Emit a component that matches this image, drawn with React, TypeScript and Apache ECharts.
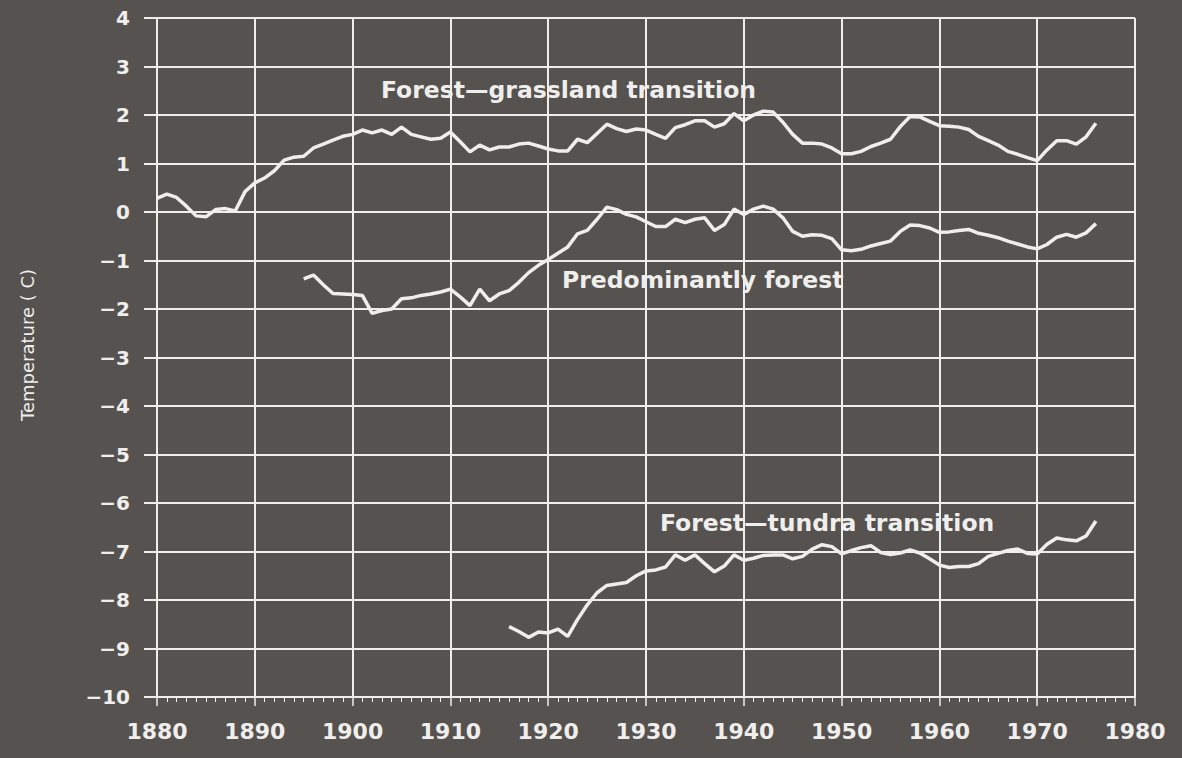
import React, { useEffect, useRef } from "react";
import * as echarts from "echarts";

const xTicks = [1880, 1890, 1900, 1910, 1920, 1930, 1940, 1950, 1960, 1970, 1980];
const yTicks = [-10, -9, -8, -7, -6, -5, -4, -3, -2, -1, 0, 1, 2, 3, 4];

const grasslandStart = 1880;
const grasslandValues = [
  0.28, 0.37, 0.3, 0.12, -0.08, -0.1, 0.05, 0.07, 0.02, 0.42,
  0.6, 0.7, 0.85, 1.07, 1.13, 1.15, 1.32, 1.4, 1.48, 1.56,
  1.6, 1.69, 1.63, 1.69, 1.6, 1.75, 1.6, 1.55, 1.5, 1.52,
  1.65, 1.45, 1.24, 1.38, 1.28, 1.34, 1.34, 1.4, 1.42, 1.36,
  1.3, 1.26, 1.26, 1.5, 1.43, 1.62, 1.81, 1.72, 1.66, 1.71,
  1.69, 1.6, 1.52, 1.74, 1.8, 1.88, 1.88, 1.75, 1.82, 2.03,
  1.88, 2.0, 2.08, 2.06, 1.85, 1.6, 1.42, 1.42, 1.4, 1.32,
  1.2, 1.2, 1.25, 1.35, 1.42, 1.5, 1.76, 1.97, 1.96, 1.87,
  1.78, 1.77, 1.75, 1.7, 1.56, 1.47, 1.38, 1.25, 1.19, 1.12,
  1.06, 1.28, 1.47, 1.47, 1.4, 1.55, 1.83,
];

const forestStart = 1895;
const forestValues = [
  -1.38, -1.3, -1.5, -1.68, -1.69,
  -1.7, -1.72, -2.09, -2.03, -2.0, -1.79, -1.77, -1.72, -1.69, -1.65,
  -1.59, -1.75, -1.93, -1.59, -1.83, -1.69, -1.62, -1.45, -1.25, -1.1,
  -0.98, -0.85, -0.72, -0.45, -0.38, -0.15, 0.1, 0.05, -0.05, -0.1,
  -0.2, -0.3, -0.3, -0.15, -0.22, -0.15, -0.12, -0.38, -0.26, 0.06,
  -0.05, 0.06, 0.12, 0.06, -0.12, -0.4, -0.5, -0.47, -0.48, -0.55,
  -0.78, -0.8, -0.77, -0.7, -0.65, -0.6, -0.4, -0.27, -0.28, -0.33,
  -0.42, -0.41, -0.38, -0.36, -0.44, -0.48, -0.53, -0.6, -0.66, -0.72,
  -0.76, -0.67, -0.52, -0.46, -0.52, -0.43, -0.24,
];

const tundraStart = 1916;
const tundraValues = [
  -8.55, -8.65, -8.77, -8.66,
  -8.68, -8.6, -8.75, -8.4, -8.1, -7.85, -7.7, -7.67, -7.64, -7.5,
  -7.4, -7.38, -7.32, -7.07, -7.18, -7.07, -7.25, -7.42, -7.3, -7.07,
  -7.18, -7.14, -7.08, -7.07, -7.07, -7.15, -7.1, -6.95, -6.86, -6.9,
  -7.05, -6.98, -6.92, -6.88, -7.02, -7.06, -7.03, -6.97, -7.03, -7.15,
  -7.28, -7.33, -7.31, -7.31, -7.25, -7.1, -7.04, -6.98, -6.95, -7.04,
  -7.05, -6.85, -6.72, -6.76, -6.78, -6.68, -6.37,
];

const labels = [
  { text: "Forest—grassland transition", x: 381, y: 90 },
  { text: "Predominantly forest", x: 562, y: 280 },
  { text: "Forest—tundra transition", x: 660, y: 523 },
];

const yTitle = "Temperature ( C)";

const toPairs = (start: number, vals: number[]) => vals.map((v, i) => [start + i, v]);

const BG = "#55524f";
const FG = "#efeeec";
const FONT = "DejaVu Sans";

export default function App() {
  const ref = useRef<HTMLDivElement>(null);
  useEffect(() => {
    if (!ref.current) return;
    const chart = echarts.init(ref.current, null, { renderer: "svg" });
    const lineSeries = (name: string, start: number, vals: number[]) => ({
      name,
      type: "line",
      data: toPairs(start, vals),
      showSymbol: false,
      symbol: "none",
      lineStyle: { color: FG, width: 3.5 },
      z: 5,
    });
    chart.setOption({
      animation: false,
      backgroundColor: BG,
      grid: { left: 157, right: 47, top: 18, bottom: 61, containLabel: false },
      xAxis: {
        type: "value",
        min: xTicks[0],
        max: xTicks[xTicks.length - 1],
        interval: 10,
        axisLine: { show: true, onZero: false, lineStyle: { color: FG, width: 2 } },
        axisTick: { show: true, length: 9, lineStyle: { color: FG, width: 1.5 } },
        minorTick: { show: true, splitNumber: 10, length: 5, lineStyle: { color: FG, width: 1 } },
        splitLine: { show: true, lineStyle: { color: FG, width: 2 } },
        axisLabel: {
          color: FG,
          fontFamily: FONT,
          fontSize: 22,
          fontWeight: "bold",
          margin: 23,
          formatter: (v: number) => String(v),
        },
      },
      yAxis: {
        type: "value",
        min: yTicks[0],
        max: yTicks[yTicks.length - 1],
        interval: 1,
        axisLine: { show: true, onZero: false, lineStyle: { color: FG, width: 2 } },
        axisTick: { show: true, length: 13, lineStyle: { color: FG, width: 2 } },
        splitLine: { show: true, lineStyle: { color: FG, width: 2 } },
        axisLabel: {
          color: FG,
          fontFamily: FONT,
          fontSize: 20,
          fontWeight: "bold",
          margin: 27,
          formatter: (v: number) => (v < 0 ? "−" + Math.abs(v) : String(v)),
        },
      },
      graphic: [
        ...labels.map((l) => ({
          type: "text",
          x: l.x,
          y: l.y,
          z: 10,
          style: {
            text: l.text,
            fill: FG,
            font: `bold 23.5px ${FONT}`,
            verticalAlign: "middle",
            align: "left",
          },
        })),
        {
          type: "text",
          x: 27,
          y: 345,
          rotation: Math.PI / 2,
          z: 10,
          style: {
            text: yTitle,
            fill: FG,
            font: `18px ${FONT}`,
            align: "center",
            verticalAlign: "middle",
          },
        },
      ],
      series: [
        lineSeries("Forest-grassland transition", grasslandStart, grasslandValues),
        lineSeries("Predominantly forest", forestStart, forestValues),
        lineSeries("Forest-tundra transition", tundraStart, tundraValues),
      ],
    });
    return () => chart.dispose();
  }, []);
  return (
    <div
      ref={ref}
      style={{ position: "fixed", left: 0, top: 0, width: 1182, height: 758, background: BG }}
    />
  );
}
